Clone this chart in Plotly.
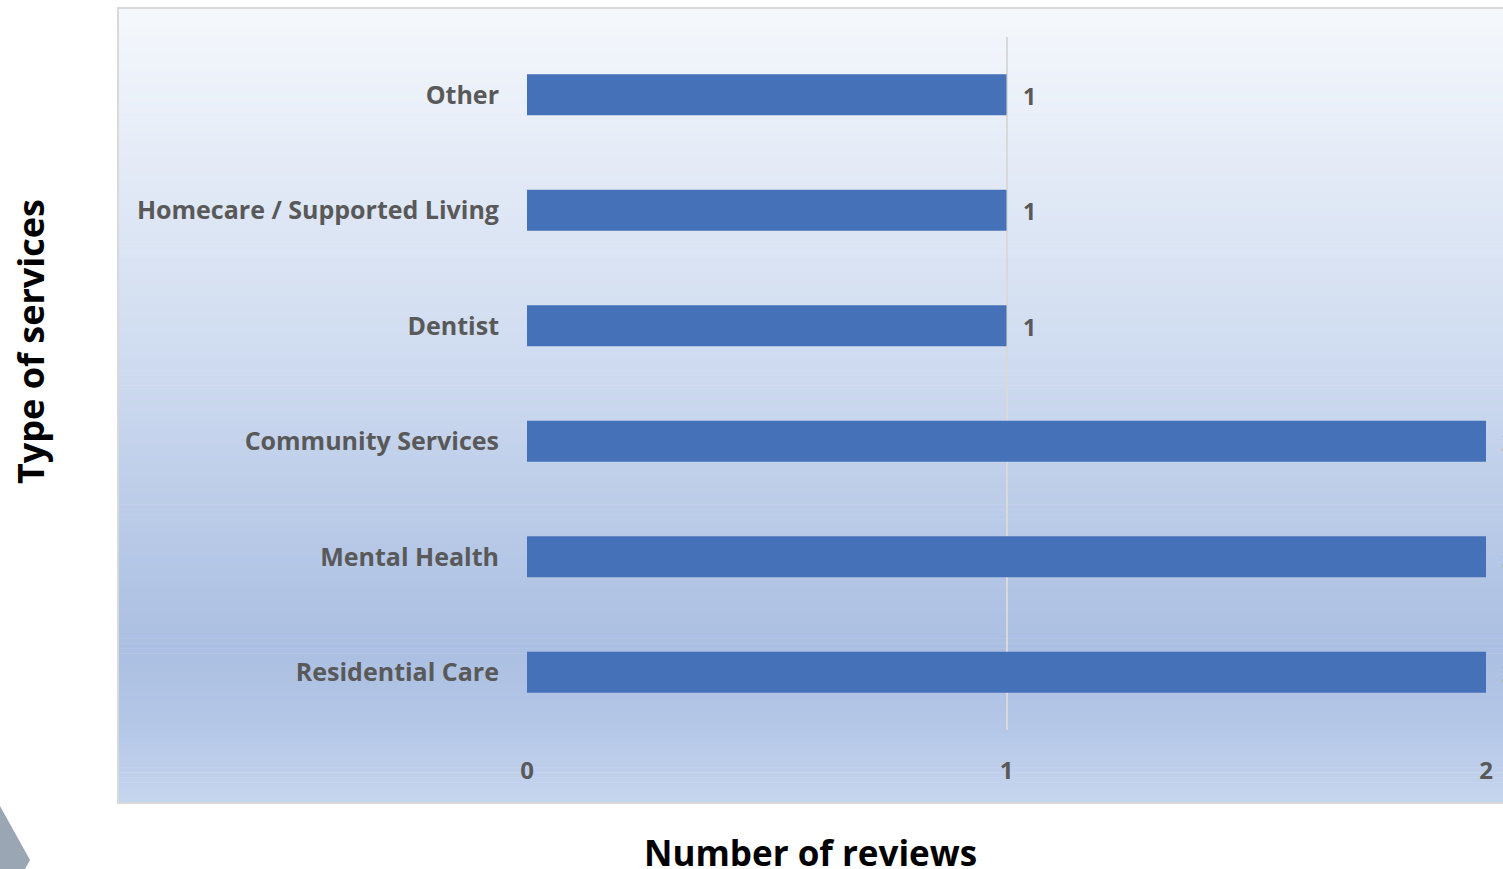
import plotly.graph_objects as go

# Review counts per service type (bottom to top as drawn)
services = ["Residential Care", "Mental Health", "Community Services",
            "Dentist", "Homecare / Supported Living", "Other"]
reviews = [2, 2, 2, 1, 1, 1]
x_ticks = [0, 1, 2]

W, H = 1503, 869
FONT = "Open Sans"
BAR = "#4571b9"
GREY_TXT = "#595959"


def px_x(v):
    return v / W


def px_y(v):
    return 1 - v / H


def hex2rgb(h):
    h = h.lstrip("#")
    return [int(h[i:i + 2], 16) for i in (0, 2, 4)]


# background panel gradient stops: (pixel row, colour)
stops = [(8, "#f5f8fc"), (150, "#e5ecf7"), (350, "#d0dcf0"),
         (550, "#b6c8e6"), (650, "#abbfe2"), (730, "#b5c7e7"), (802, "#c7d6ee")]

shapes = []
top, bot = 8, 802
n = 160
for i in range(n):
    y0 = top + (bot - top) * i / n
    y1 = top + (bot - top) * (i + 1) / n
    ym = (y0 + y1) / 2
    for (a, ca), (b, cb) in zip(stops[:-1], stops[1:]):
        if a <= ym <= b:
            t = (ym - a) / (b - a)
            r1, r2 = hex2rgb(ca), hex2rgb(cb)
            c = [round(r1[k] + (r2[k] - r1[k]) * t) for k in range(3)]
            break
    shapes.append(dict(type="rect", xref="paper", yref="paper", layer="below",
                       x0=px_x(119), x1=px_x(W + 5), y0=px_y(y1 + 0.6), y1=px_y(y0),
                       fillcolor=f"rgb({c[0]},{c[1]},{c[2]})", line=dict(width=0)))
# panel outline
shapes.append(dict(type="rect", xref="paper", yref="paper", layer="below",
                   x0=px_x(118), x1=px_x(W + 5), y0=px_y(803), y1=px_y(8),
                   fillcolor="rgba(0,0,0,0)", line=dict(color="#d9d9d9", width=2)))
# grey corner accent
shapes.append(dict(type="path", xref="paper", yref="paper", layer="above",
                   path=f"M 0 {px_y(806)} L {px_x(30)} {px_y(860)} L {px_x(25)} {px_y(869)} L 0 {px_y(869)} Z",
                   fillcolor="#9ba6b5", line=dict(width=0)))

fig = go.Figure(go.Bar(
    y=services, x=reviews, orientation="h",
    marker=dict(color=BAR, line=dict(width=0)),
    width=0.355, hoverinfo="skip",
))

# value labels just right of each bar
annotations = [dict(x=v, y=s, xref="x", yref="y", text=f"<b>{v}</b>", showarrow=False,
                    xanchor="left", yanchor="middle", xshift=14, yshift=-1,
                    font=dict(family=FONT, size=23, color=GREY_TXT))
               for s, v in zip(services, reviews)]
annotations.append(dict(x=px_x(810), y=px_y(852), xref="paper", yref="paper",
                        text="<b>Number of reviews</b>", showarrow=False,
                        xanchor="center", yanchor="middle",
                        font=dict(family=FONT, size=35, color="#000000")))
annotations.append(dict(x=px_x(30), y=px_y(342), xref="paper", yref="paper",
                        text="<b>Type of services</b>", showarrow=False, textangle=-90,
                        xanchor="center", yanchor="middle",
                        font=dict(family=FONT, size=36, color="#000000")))

fig.update_layout(
    width=W, height=H,
    margin=dict(l=0, r=0, t=0, b=0),
    paper_bgcolor="white", plot_bgcolor="rgba(0,0,0,0)",
    showlegend=False, bargap=0.645,
    shapes=shapes, annotations=annotations,
    xaxis=dict(domain=[px_x(527), px_x(1486)], range=[0, 2], tickvals=x_ticks,
               ticktext=[f"<b>{t}</b>" for t in x_ticks],
               showgrid=True, gridcolor="#d9d9d9", gridwidth=1.5, zeroline=False,
               showline=False, ticks="outside", ticklen=19, tickcolor="rgba(0,0,0,0)",
               tickfont=dict(family=FONT, size=24, color=GREY_TXT), automargin=False,
               fixedrange=True),
    yaxis=dict(domain=[px_y(730), px_y(37)], categoryorder="array", categoryarray=services,
               ticktext=[f"<b>{s}</b>" for s in services], tickvals=services,
               showgrid=False, zeroline=False, showline=False,
               ticks="outside", ticklen=22, tickcolor="rgba(0,0,0,0)",
               tickfont=dict(family=FONT, size=25, color=GREY_TXT), automargin=False,
               fixedrange=True),
)

fig.write_html("out.html")
